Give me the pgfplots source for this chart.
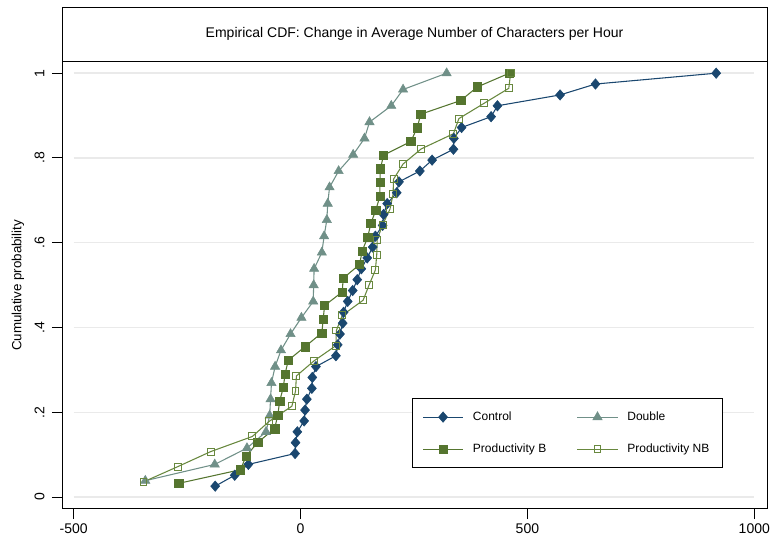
\documentclass[border=0pt]{standalone}
\usepackage{fontspec}
\setmainfont{Liberation Sans}
\usepackage{pgfplots}
\pgfplotsset{compat=1.18}
\definecolor{ctrl}{RGB}{26,71,111}
\definecolor{dbl}{RGB}{112,144,136}
\definecolor{prodb}{RGB}{85,117,47}
\definecolor{prodnb}{RGB}{104,136,62}
\definecolor{gridc}{RGB}{234,234,234}

\begin{document}
\begin{tikzpicture}
\useasboundingbox (0,0) rectangle (578.25pt,404.25pt);
\begin{axis}[
	at={(46.5pt,22.5pt)}, anchor=south west,
	scale only axis,
	width=528.75pt, height=335.5pt,
	xmin=-525.6, xmax=1028,
	ymin=-0.0283, ymax=1.0272,
	axis line style={line width=0.75pt},
	tick align=outside,
	major tick length=7.5pt,
	tick style={black, line width=0.75pt},
	xtick pos=bottom, ytick pos=left,
	xtick={-500,0,500,1000},
	xticklabels={-500,0,500,1000},
	ytick={0,0.2,0.4,0.6,0.8,1},
	yticklabels={0,.2,.4,.6,.8,1},
	ticklabel style={font=\fontsize{10.5}{12}\selectfont},
	yticklabel style={rotate=90, anchor=south, inner ysep=5.5pt},
	ylabel={Cumulative probability},
	every axis y label/.style={at={(axis description cs:-0.0624,0.5)}, rotate=90, anchor=center, font=\fontsize{10}{12}\selectfont},
	legend columns=2,
	legend cell align=left,
	legend style={at={(0.4965,0.2483)}, anchor=north west, draw=black, line width=0.75pt,
		font=\fontsize{9}{11}\selectfont, inner xsep=7.5pt, inner ysep=8pt, row sep=12pt,
		/tikz/every odd column/.append style={column sep=5pt},
		/tikz/every even column/.append style={column sep=21pt}},
	legend image code/.code={\draw[mark repeat=2,mark phase=2] plot coordinates {(0pt,0pt) (15pt,0pt) (30pt,0pt)};},
]
% grid lines span the data range only
\draw[gridc, line width=1.1pt] (axis cs:-500,0) -- (axis cs:1000,0);
\draw[gridc, line width=1.1pt] (axis cs:-500,0.2) -- (axis cs:1000,0.2);
\draw[gridc, line width=1.1pt] (axis cs:-500,0.4) -- (axis cs:1000,0.4);
\draw[gridc, line width=1.1pt] (axis cs:-500,0.6) -- (axis cs:1000,0.6);
\draw[gridc, line width=1.1pt] (axis cs:-500,0.8) -- (axis cs:1000,0.8);
\draw[gridc, line width=1.1pt] (axis cs:-500,1) -- (axis cs:1000,1);

\addplot[color=ctrl, line width=0.8pt, mark=diamond*, mark size=3.9pt, mark options={fill=ctrl, line width=0.4pt, xscale=1.15}] coordinates {
(-188,0.0256) (-145,0.0513) (-115,0.0769) (-12,0.1026) (-11,0.1282) (-7,0.1538)
(8,0.1795) (10,0.2051) (14,0.2308) (25,0.2564) (26,0.2821) (34,0.3077)
(78,0.3333) (82,0.3590) (87,0.3846) (93,0.4103) (95,0.4359) (104,0.4615)
(115,0.4872) (125,0.5128) (134,0.5385) (147,0.5641) (159,0.5897) (165,0.6154)
(181,0.6410) (183,0.6667) (191,0.6923) (212,0.7179) (217,0.7436) (263,0.7692)
(290,0.7949) (337,0.8205) (338,0.8462) (355,0.8718) (420,0.8974) (434,0.9231)
(572,0.9487) (650,0.9744) (916,1)
};
\addlegendentry{Control}

\addplot[color=dbl, line width=0.8pt, mark=triangle*, mark size=4pt, mark options={fill=dbl, line width=0.4pt}] coordinates {
(-342,0.0385) (-189,0.0769) (-118,0.1154) (-76,0.1538) (-68,0.1923) (-66,0.2308)
(-64,0.2692) (-56,0.3077) (-43,0.3462) (-22,0.3846) (2,0.4231) (28,0.4615)
(29,0.5) (30,0.5385) (47,0.5769) (52,0.6154) (58,0.6538) (60,0.6923)
(64,0.7308) (84,0.7692) (116,0.8077) (141,0.8462) (152,0.8846) (200,0.9231)
(226,0.9615) (322,1)
};
\addlegendentry{Double}

\addplot[color=prodb, line width=0.8pt, mark=square*, mark size=3.1pt, mark options={fill=prodb, line width=0.4pt}] coordinates {
(-268,0.0323) (-132,0.0645) (-120,0.0968) (-94,0.1290) (-57,0.1613) (-50,0.1935)
(-46,0.2258) (-38,0.2581) (-34,0.2903) (-27,0.3226) (10,0.3548) (47,0.3871)
(50,0.4194) (53,0.4516) (92,0.4839) (94,0.5161) (130,0.5484) (136,0.5806)
(148,0.6129) (155,0.6452) (166,0.6774) (175,0.7097) (175,0.7419) (176,0.7742)
(183,0.8065) (243,0.8387) (257,0.8710) (265,0.9032) (353,0.9355) (390,0.9677)
(460,1)
};
\addlegendentry{Productivity B}

\addplot[color=prodnb, line width=0.8pt, mark=square, mark size=2.6pt, mark options={line width=0.75pt}] coordinates {
(-346,0.0357) (-271,0.0714) (-198,0.1071) (-106,0.1429) (-69,0.1786) (-19,0.2143)
(-11,0.25) (-9,0.2857) (30,0.3214) (78,0.3571) (79,0.3929) (92,0.4286)
(138,0.4643) (151,0.5) (165,0.5357) (168,0.5714) (169,0.6071) (181,0.6429)
(197,0.6786) (204,0.7143) (205,0.75) (226,0.7857) (266,0.8214) (337,0.8571)
(349,0.8929) (404,0.9286) (459,0.9643) (463,1)
};
\addlegendentry{Productivity NB}
\end{axis}
% title box above the plot region
\draw[line width=0.75pt] (46.5pt,358.1pt) rectangle (575.25pt,398.6pt);
\node[font=\fontsize{10.5}{12}\selectfont] at (310.9pt,379.2pt) {Empirical CDF: Change in Average Number of Characters per Hour};
\end{tikzpicture}
\end{document}
